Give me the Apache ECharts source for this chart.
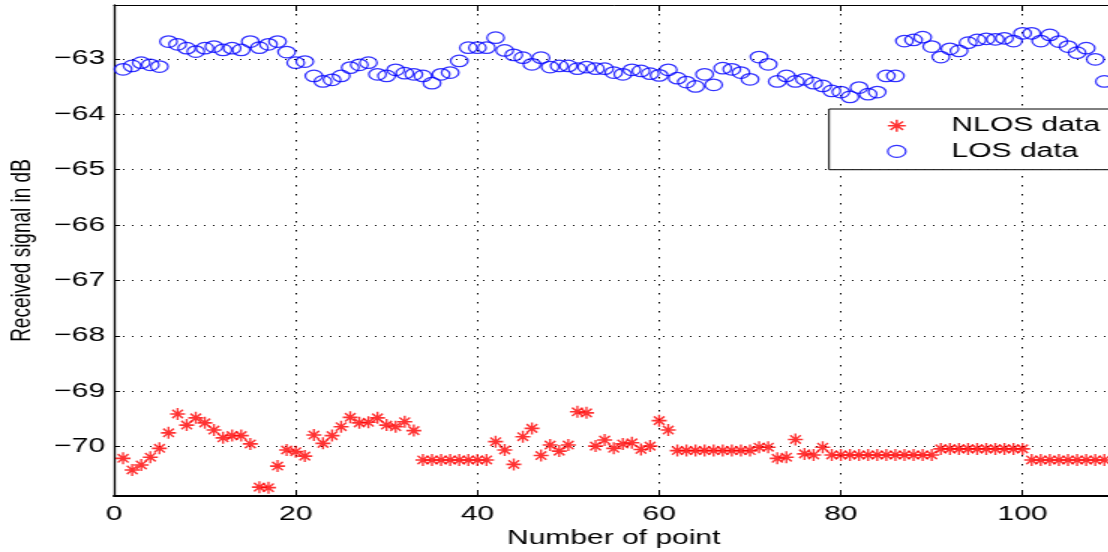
<!DOCTYPE html>
<html>
<head>
<meta charset="utf-8">
<script src="https://cdn.jsdelivr.net/npm/echarts@6/dist/echarts.min.js"></script>
<style>
html,body{margin:0;padding:0;overflow:hidden;width:1108px;height:552px;background:#fff;}
#chart{width:760px;height:552px;transform:scaleX(1.5);transform-origin:0 0;}
</style>
</head>
<body>
<div id="chart"></div>
<script>
// ---- data ----
const pointNumbers = [1,2,3,4,5,6,7,8,9,10,11,12,13,14,15,16,17,18,19,20,21,22,23,24,25,26,27,28,29,30,31,32,33,34,35,36,37,38,39,40,41,42,43,44,45,46,47,48,49,50,51,52,53,54,55,56,57,58,59,60,61,62,63,64,65,66,67,68,69,70,71,72,73,74,75,76,77,78,79,80,81,82,83,84,85,86,87,88,89,90,91,92,93,94,95,96,97,98,99,100,101,102,103,104,105,106,107,108,109];

const nlosValues = [
  -70.21,-70.42,-70.33,-70.19,-70.03,-69.75,-69.41,-69.61,-69.48,-69.57,
  -69.70,-69.84,-69.80,-69.80,-69.95,-70.73,-70.74,-70.35,-70.06,-70.09,
  -70.17,-69.79,-69.94,-69.80,-69.64,-69.47,-69.57,-69.56,-69.48,-69.61,
  -69.64,-69.55,-69.71,-70.24,-70.24,-70.24,-70.24,-70.24,-70.24,-70.24,
  -70.24,-69.91,-70.06,-70.32,-69.82,-69.67,-70.16,-69.97,-70.08,-69.97,
  -69.37,-69.39,-69.99,-69.88,-70.03,-69.95,-69.93,-70.05,-69.99,-69.53,
  -69.70,-70.07,-70.07,-70.07,-70.07,-70.07,-70.07,-70.07,-70.07,-70.07,
  -70.01,-70.01,-70.21,-70.19,-69.87,-70.13,-70.15,-70.01,-70.15,-70.15,
  -70.15,-70.15,-70.15,-70.15,-70.15,-70.15,-70.15,-70.15,-70.15,-70.15,
  -70.04,-70.04,-70.04,-70.04,-70.04,-70.04,-70.04,-70.04,-70.04,-70.04,
  -70.24,-70.24,-70.24,-70.24,-70.24,-70.24,-70.24,-70.24,-70.24
];

const losValues = [
  -63.19,-63.13,-63.07,-63.11,-63.14,-62.69,-62.74,-62.81,-62.87,-62.81,
  -62.78,-62.84,-62.81,-62.84,-62.69,-62.80,-62.74,-62.69,-62.88,-63.07,
  -63.05,-63.31,-63.41,-63.38,-63.31,-63.16,-63.11,-63.07,-63.28,-63.31,
  -63.20,-63.26,-63.28,-63.31,-63.44,-63.28,-63.25,-63.04,-62.80,-62.80,
  -62.80,-62.62,-62.85,-62.93,-62.98,-63.10,-62.98,-63.15,-63.13,-63.13,
  -63.18,-63.15,-63.18,-63.18,-63.25,-63.28,-63.20,-63.22,-63.27,-63.30,
  -63.20,-63.35,-63.42,-63.50,-63.28,-63.47,-63.17,-63.19,-63.25,-63.37,
  -62.97,-63.10,-63.41,-63.31,-63.41,-63.37,-63.44,-63.49,-63.58,-63.60,
  -63.69,-63.52,-63.64,-63.60,-63.31,-63.31,-62.68,-62.66,-62.61,-62.78,
  -62.97,-62.82,-62.86,-62.71,-62.66,-62.64,-62.65,-62.63,-62.68,-62.54,
  -62.54,-62.68,-62.57,-62.69,-62.78,-62.89,-62.81,-63.01,-63.41
];

const xTickLabels = [0, 20, 40, 60, 80, 100];
const yTickLabels = [-70, -69, -68, -67, -66, -65, -64, -63];
const seriesNames = ['NLOS data', 'LOS data'];

// ---- chart ----
const FONT = '"Liberation Sans", Arial, Helvetica, sans-serif';
const STAR = 'path://M0,5L10,5M5,0L5,10M1.5,1.5L8.5,8.5M1.5,8.5L8.5,1.5';
const nlosStyle = {color: 'rgba(0,0,0,0)', borderColor: '#ff0000', borderWidth: 1.5};
const losStyle = {color: 'rgba(0,0,0,0)', borderColor: '#0000ff', borderWidth: 1.25};

const chart = echarts.init(document.getElementById('chart'), null, {renderer: 'canvas'});

function yFmt(v) {
  const r = Math.round(v);
  if (Math.abs(v - r) > 1e-6 || yTickLabels.indexOf(r) < 0) return '';
  return '\u2212' + Math.abs(r);
}
function xFmt(v) {
  return xTickLabels.indexOf(v) >= 0 ? String(v) : '';
}

const option = {
  animation: false,
  backgroundColor: '#fff',
  grid: {left: 76, right: 17.7, top: 5, bottom: 56, containLabel: false, outerBoundsMode: 'none'},
  legend: {
    orient: 'vertical',
    left: 552.7, top: 109,
    padding: [5.7, 15, 7.3, 38.4],
    itemWidth: 63, itemHeight: 12, itemGap: 3.7,
    backgroundColor: '#fff', borderColor: '#000', borderWidth: 1,
    selectedMode: false,
    textStyle: {fontFamily: FONT, fontSize: 20, color: '#000', lineHeight: 22},
    data: [
      {name: seriesNames[0], icon: STAR, itemStyle: nlosStyle},
      {name: seriesNames[1], icon: 'circle', itemStyle: losStyle}
    ]
  },
  xAxis: [{
    type: 'value', position: 'bottom', min: 0, max: 110, interval: 20,
    name: 'Number of point', nameLocation: 'middle', nameGap: 26,
    nameTextStyle: {fontFamily: FONT, fontSize: 20, color: '#000'},
    axisLine: {show: true, lineStyle: {color: '#000', width: 2}},
    axisTick: {show: true, inside: true, length: 6, lineStyle: {color: '#000', width: 1}},
    axisLabel: {show: true, margin: 8, fontFamily: FONT, fontSize: 20, color: '#000', formatter: xFmt},
    splitLine: {show: true, lineStyle: {color: '#000', width: 1, type: [1.5, 7.5]}}
  }, {
    type: 'value', position: 'top', min: 0, max: 110, interval: 20,
    axisLine: {show: true, lineStyle: {color: '#000', width: 1}},
    axisTick: {show: true, inside: true, length: 6, lineStyle: {color: '#000', width: 1}},
    axisLabel: {show: false},
    splitLine: {show: false}
  }],
  yAxis: {
    type: 'value', min: -70.89, max: -62.03, splitNumber: 9,
    name: 'Received signal in dB', nameLocation: 'middle', nameGap: 52, nameRotate: 90,
    nameTextStyle: {fontFamily: FONT, fontSize: 19, color: '#000'},
    axisLine: {show: true, lineStyle: {color: '#000', width: 1.33}},
    axisTick: {show: true, inside: true, length: 4, lineStyle: {color: '#000', width: 1}},
    axisLabel: {show: true, margin: 6, fontFamily: FONT, fontSize: 20, color: '#000', formatter: yFmt},
    splitLine: {show: true, lineStyle: {color: '#000', width: 1, type: [1, 5]}}
  },
  series: [{
    name: seriesNames[0], type: 'scatter', xAxisIndex: 0,
    symbol: STAR, symbolSize: [10, 12], symbolKeepAspect: false,
    itemStyle: nlosStyle, silent: true,
    data: pointNumbers.map((x, i) => [x, nlosValues[i]])
  }, {
    name: seriesNames[1], type: 'scatter', xAxisIndex: 0,
    symbol: 'circle', symbolSize: 11.5,
    itemStyle: losStyle, silent: true,
    data: pointNumbers.map((x, i) => [x, losValues[i]])
  }]
};
chart.setOption(option);
</script>
</body>
</html>
